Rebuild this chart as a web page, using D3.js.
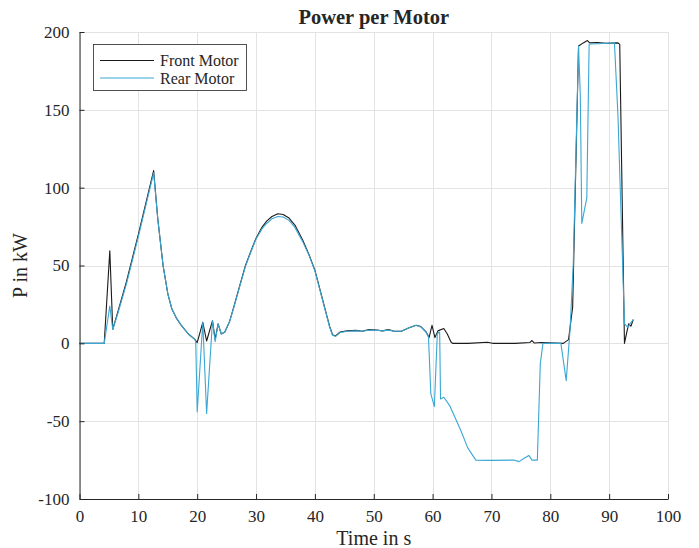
<!DOCTYPE html>
<html>
<head>
<meta charset="utf-8">
<script src="https://cdn.jsdelivr.net/npm/d3@7"></script>
<style>
  html, body { margin: 0; padding: 0; background: #fff; }
  svg { display: block; }
  text { font-family: "Liberation Serif", "Times New Roman", serif; fill: #262626; }
</style>
</head>
<body>
<svg id="chart" width="699" height="548"></svg>
<script>
// ---- data ----
const xTicks = [0, 10, 20, 30, 40, 50, 60, 70, 80, 90, 100];
const yTicks = [-100, -50, 0, 50, 100, 150, 200];
const seriesNames = ["Front Motor", "Rear Motor"];

const frontTime = [0, 4.2, 5.15, 5.65, 6.5, 8, 10, 12.6, 13.3, 14.2, 15.0, 15.7, 16.5, 17.3, 18.5, 19.6,
  20.0, 20.95, 21.6, 22.6, 23.05, 23.55, 24.1, 24.7, 25.5, 26.3, 27.3, 28.2, 29.2, 30.0, 31.0, 31.8, 32.7,
  33.7, 34.6, 35.6, 36.6, 37.9, 39.0, 40.0, 40.9, 41.8, 42.5, 43.0, 43.5, 44.3, 45.5, 47, 48, 49.2, 50.5,
  51.5, 52.5, 53.5, 54.7, 56, 57.2, 58, 58.9, 59.4, 59.9, 60.4, 60.9, 61.9, 62.5, 63.1, 63.4, 66, 69.3,
  70.2, 74, 76.5, 76.9, 77.3, 78.5, 82.2, 83.1, 83.8, 84.8, 85.6, 86.3, 86.7, 88, 89.5, 91.5, 91.8, 92.6,
  93.3, 93.7, 94.1];
const frontPower = [0, 0, 59.5, 9, 20, 40, 70, 111, 80, 50, 32, 22, 16, 11.5, 6, 2.5,
  0.5, 13.5, 1.5, 14.5, 2.5, 12.5, 6, 7.3, 14, 24.5, 38, 50, 60, 67.5, 74.5, 78.5, 81.5,
  83.2, 82.8, 80.5, 76, 66.5, 57, 47, 34, 21, 11, 5.5, 4.7, 7.3, 8, 8.3, 7.8, 8.8, 8.6,
  8, 8.8, 7.8, 7.8, 10, 11.6, 10.8, 7.3, 3.7, 11.6, 3.7, 8, 9.5, 6, 1, 0, 0, 0.7,
  0, 0, 0.5, 1.8, 0.2, 0.5, 0, 2.4, 23.4, 191, 193, 194.5, 193, 193.3, 192.8, 193, 192, 0,
  12.5, 11, 15.3];

const rearTime = [0, 4.2, 5.15, 5.65, 6.5, 8, 10, 12.6, 13.3, 14.2, 15.0, 15.7, 16.5, 17.3, 18.5, 19.6,
  19.75, 20.0, 20.95, 21.6, 22.6, 23.05, 23.55, 24.1, 24.7, 25.5, 26.3, 27.3, 28.2, 29.2, 30.0, 31.0, 31.8,
  32.7, 33.7, 34.6, 35.6, 36.6, 37.9, 39.0, 40.0, 40.9, 41.8, 42.5, 43.0, 43.5, 44.3, 45.5, 47, 48, 49.2,
  50.5, 51.5, 52.5, 53.5, 54.7, 56, 57.2, 58, 58.9, 59.3, 59.7, 60.3, 60.8, 61.2, 61.35, 61.9, 62.9, 64.8,
  65.95, 67.35, 70, 73.8, 74.7, 75.5, 76.35, 76.9, 77.8, 78.3, 78.75, 81.8, 82.7, 83.35, 83.9, 84.8, 85.1,
  85.35, 86.2, 86.6, 88, 90.9, 91.5, 92.6, 93.2, 93.6, 94.1];
const rearPower = [0, 0, 24, 9, 19, 38.5, 68.5, 109.5, 80, 50, 32, 22, 16, 11.5, 6, 2.5,
  1.5, -44, 13.5, -45, 14.5, 1, 12.5, 6, 7.3, 14, 24, 37.5, 49.5, 59.5, 67, 73.5, 77,
  80, 81.5, 81.2, 79, 74.5, 65.5, 56.5, 46.5, 33.5, 20.5, 10.5, 5.2, 4.5, 7, 7.8, 8, 7.8, 8.5,
  8.4, 8, 8.5, 7.8, 7.8, 10, 11.6, 10.5, 7, 4, -32.5, -40.6, 6.2, 7.3, -35.7, -34.6, -40, -56,
  -67, -75, -75.2, -75, -76, -74, -72, -75, -75, -13, 0, 0, -24, 8.4, 51, 191, 159,
  77, 93.3, 192.3, 192.5, 193, 146, 12.7, 10, 13, 15];

const colors = ["#1a1a1a", "#3aa7d3"];

// ---- layout ----
const svg = d3.select("#chart");
const pLeft = 79.5, pRight = 668, pTop = 32, pBottom = 499;
const x = d3.scaleLinear().domain([0, 100]).range([pLeft, pRight]);
const y = d3.scaleLinear().domain([-100, 200]).range([pBottom, pTop]);

// grid
const grid = svg.append("g").attr("stroke", "#e3e3e3").attr("stroke-width", 1);
grid.selectAll("line.vx").data(xTicks).join("line")
  .attr("x1", d => Math.round(x(d)) + 0.5).attr("x2", d => Math.round(x(d)) + 0.5)
  .attr("y1", pTop).attr("y2", pBottom);
grid.selectAll("line.hy").data(yTicks).join("line")
  .attr("y1", d => Math.round(y(d)) + 0.5).attr("y2", d => Math.round(y(d)) + 0.5)
  .attr("x1", pLeft).attr("x2", pRight);

// series
const line = d3.line().x(d => x(d[0])).y(d => y(d[1]));
const frontData = frontTime.map((t, i) => [t, frontPower[i]]);
const rearData = rearTime.map((t, i) => [t, rearPower[i]]);
[frontData, rearData].forEach((data, i) => {
  svg.append("path").datum(data)
    .attr("fill", "none")
    .attr("stroke", colors[i])
    .attr("stroke-width", 1.1)
    .attr("stroke-linejoin", "round")
    .attr("d", line);
});

// axes
const fmt = d => String(d);
const xAxis = d3.axisBottom(x).tickValues(xTicks).tickFormat(fmt)
  .tickSizeInner(-5).tickSizeOuter(0).tickPadding(11);
const yAxis = d3.axisLeft(y).tickValues(yTicks).tickFormat(fmt)
  .tickSizeInner(-5).tickSizeOuter(0).tickPadding(10);

const gx = svg.append("g").attr("transform", `translate(0,${pBottom})`).call(xAxis);
const gy = svg.append("g").attr("transform", `translate(${pLeft},0)`).call(yAxis);
[gx, gy].forEach(g => {
  g.select(".domain").attr("stroke", "#262626");
  g.selectAll(".tick line").attr("stroke", "#262626");
  g.selectAll(".tick text").attr("fill", "#262626")
    .style("font-family", "'Liberation Serif', serif").style("font-size", "17px");
});

// title & labels
svg.append("text").attr("x", (pLeft + pRight) / 2).attr("y", 24)
  .attr("text-anchor", "middle").style("font-size", "20.5px").style("font-weight", "bold")
  .attr("fill", "#000").text("Power per Motor");
svg.append("text").attr("x", (pLeft + pRight) / 2).attr("y", 545)
  .attr("text-anchor", "middle").style("font-size", "20px").text("Time in s");
svg.append("text").attr("transform", `translate(27,${(pTop + pBottom) / 2}) rotate(-90)`)
  .attr("text-anchor", "middle").style("font-size", "20px").text("P in kW");

// legend
const lg = svg.append("g");
lg.append("rect").attr("x", 93.5).attr("y", 44.5).attr("width", 153).attr("height", 46)
  .attr("fill", "#fff").attr("stroke", "#262626").attr("stroke-width", 0.8);
seriesNames.forEach((name, i) => {
  const yy = 60.5 + i * 17.5;
  lg.append("line").attr("x1", 100).attr("x2", 154).attr("y1", yy).attr("y2", yy)
    .attr("stroke", colors[i]).attr("stroke-width", 1.1);
  lg.append("text").attr("x", 160).attr("y", yy + 5.5)
    .style("font-size", "16px").text(name);
});
</script>
</body>
</html>
